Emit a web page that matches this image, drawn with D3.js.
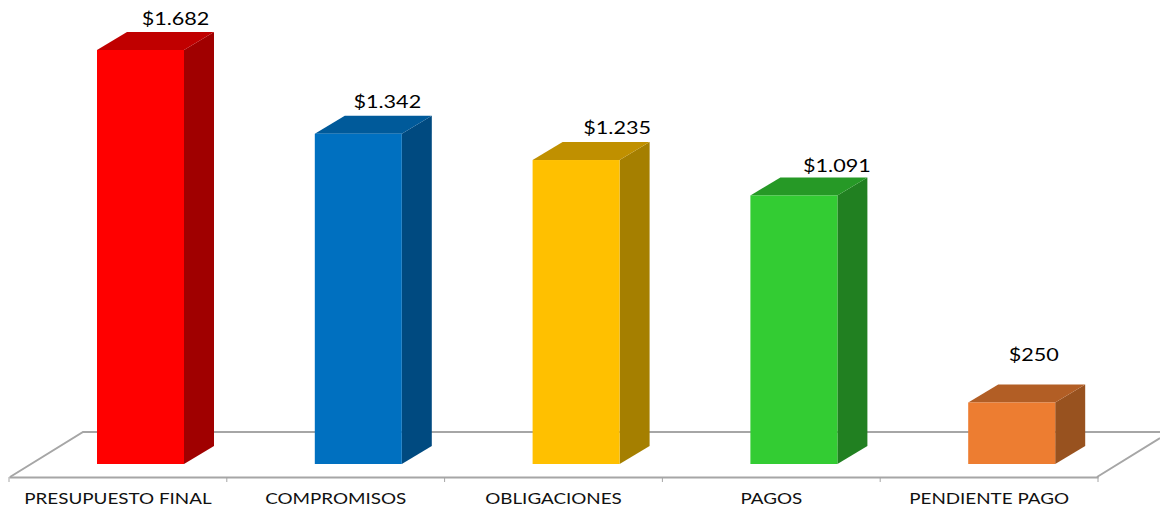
<!doctype html>
<html>
<head>
<script src="https://d3js.org/d3.v7.min.js"></script>
<style>
html,body{margin:0;padding:0;background:#fff;overflow:hidden}
text{font-family:"Lato",sans-serif;fill:#000}
.cat text{font-size:15.7px;fill:#111}
.val{font-size:18px}
</style>
</head>
<body>
<svg id="chart" width="1160" height="507"></svg>
<script>
var categories=["PRESUPUESTO FINAL","COMPROMISOS","OBLIGACIONES","PAGOS","PENDIENTE PAGO"];
var values=[1682,1342,1235,1091,250];
var valueLabels=["$1.682","$1.342","$1.235","$1.091","$250"];
var frontColors=["#ff0000","#0070c0","#ffc000","#33cc33","#ed7d31"];
var topColors=["#c00000","#005a9a","#c09000","#269926","#b25e25"];
var sideColors=["#a00000","#004a80","#a57f00","#218021","#98521f"];

var floorY=477,baseY=464,depthX=30,depthY=18,barW=87;
var stretch=1.2; // original text is stretched sideways
var svg=d3.select("#chart");
var x=d3.scaleBand().domain(categories).range([9,1098]);
var y=d3.scaleLinear().domain([0,1682]).range([baseY,50]);
// the 3d bars sit a bit right of the category centre, labels are offset by hand like the original
var barShift=22.6;
var labelDx=[35,29,41,43,22],labelGap=[25,26,26,23,41];

// floor
svg.append("path").attr("d","M10,"+floorY+"L83,432H1160M1097,"+floorY+"L1160,438")
	.attr("fill","none").attr("stroke","#a6a6a6").attr("stroke-width",2);

var axis=d3.axisBottom(x).tickSize(0).tickPadding(15.5);
var g=svg.append("g").attr("class","cat").attr("transform","translate(0,"+floorY+")").call(axis);
g.select(".domain").attr("stroke","#a6a6a6").attr("stroke-width",2);
g.selectAll(".tick text").attr("dy","0.71em").attr("transform","scale("+stretch+",1)");
g.selectAll(".edge").data(d3.range(categories.length+1)).enter().append("line").attr("class","edge")
	.attr("x1",function(i){return 9+i*x.step()}).attr("x2",function(i){return 9+i*x.step()})
	.attr("y1",0).attr("y2",5).attr("stroke","#a6a6a6");

var bars=svg.selectAll(".bar").data(values).enter().append("g").attr("class","bar");
function bx(i){return x(categories[i])+x.bandwidth()/2+barShift-barW/2}
bars.append("path").attr("fill",function(d,i){return sideColors[i]})
	.attr("d",function(d,i){var r=bx(i)+barW;return "M"+r+","+y(d)+"l"+depthX+","+(-depthY)+"V"+(baseY-depthY)+"l"+(-depthX)+","+depthY+"Z"});
bars.append("path").attr("fill",function(d,i){return topColors[i]})
	.attr("d",function(d,i){return "M"+bx(i)+","+y(d)+"l"+depthX+","+(-depthY)+"h"+barW+"l"+(-depthX)+","+depthY+"Z"});
bars.append("rect").attr("fill",function(d,i){return frontColors[i]})
	.attr("x",function(d,i){return bx(i)}).attr("y",function(d){return y(d)})
	.attr("width",barW).attr("height",function(d){return baseY-y(d)});

svg.selectAll(".val").data(values).enter().append("text").attr("class","val")
	.attr("text-anchor","middle")
	.attr("transform",function(d,i){return "translate("+(bx(i)+barW/2+labelDx[i])+","+(y(d)-labelGap[i])+") scale("+stretch+",1)"})
	.text(function(d,i){return valueLabels[i]});
</script>
</body>
</html>
